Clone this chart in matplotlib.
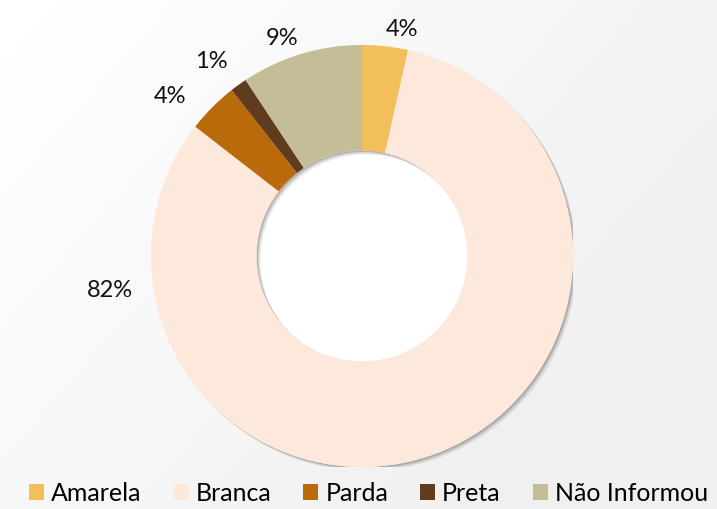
import numpy as np
import matplotlib
matplotlib.use("Agg")
import matplotlib.pyplot as plt
import matplotlib.patheffects as pe
from matplotlib.patches import Patch, Wedge

plt.rcParams['font.family'] = ['Lato', 'DejaVu Sans']

# dados (percentual por cor/raça)
categorias = ["Amarela", "Branca", "Parda", "Preta", "Não Informou"]
valores = [3.5, 82.0, 3.9, 1.3, 9.3]
rotulos = ["4%", "82%", "4%", "1%", "9%"]
cores = ["#F2BF5A", "#FDE9DB", "#B96A0A", "#5E3C1D", "#C5BD98"]

# posição dos rótulos (ângulo em graus, raio relativo)
pos_rotulos = [(80.1, 1.092), (187.9, 1.206), (140.3, 1.183), (127.7, 1.167), (110.1, 1.098)]

fig = plt.figure(figsize=(7.17, 5.09), dpi=100)

# fundo com leve degradê
bg = fig.add_axes([0, 0, 1, 1], zorder=-10)
xx, yy = np.meshgrid(np.linspace(0, 1, 200), np.linspace(0, 1, 200))
grad = 1.0 - 0.06 * np.clip(0.8 * xx + 0.5 * yy, 0, 1)
bg.imshow(grad, cmap="gray", vmin=0, vmax=1, extent=[0, 1, 0, 1], aspect="auto", origin="upper")
bg.axis("off")

ax = fig.add_axes([0.2106, 0.0825, 0.5886, 0.8291])

# anel de sombra
sombra = Wedge((0, 0), 1.0, 0, 360, width=0.5, facecolor=cores[1], edgecolor="none",
               path_effects=[pe.SimplePatchShadow(offset=(3, -3), shadow_rgbFace="k", alpha=0.06),
                             pe.SimplePatchShadow(offset=(2, -2), shadow_rgbFace="k", alpha=0.12),
                             pe.SimplePatchShadow(offset=(1, -1), shadow_rgbFace="k", alpha=0.15),
                             pe.Normal()])
ax.add_patch(sombra)
ax.add_patch(plt.Circle((0, 0), 0.5, facecolor="white", edgecolor="none", zorder=0.5))

ax.pie(valores, colors=cores, startangle=90, counterclock=False, radius=1.0,
       wedgeprops=dict(width=0.5, edgecolor="none"))

for txt, (ang, r) in zip(rotulos, pos_rotulos):
    a = np.deg2rad(ang)
    ax.text(r * np.cos(a), r * np.sin(a), txt, ha="center", va="center", fontsize=17, color="#111111")

ax.set_xlim(-1, 1)
ax.set_ylim(-1, 1)
ax.set_aspect("equal")
ax.axis("off")

handles = [Patch(facecolor=c, edgecolor="none") for c in cores]
fig.legend(handles, categorias, loc="lower center", bbox_to_anchor=(0.514, -0.036), ncol=5,
           frameon=False, fontsize=18, handlelength=0.6, handleheight=0.56,
           handletextpad=0.28, columnspacing=1.28)

fig.savefig("out.png", dpi=100)
